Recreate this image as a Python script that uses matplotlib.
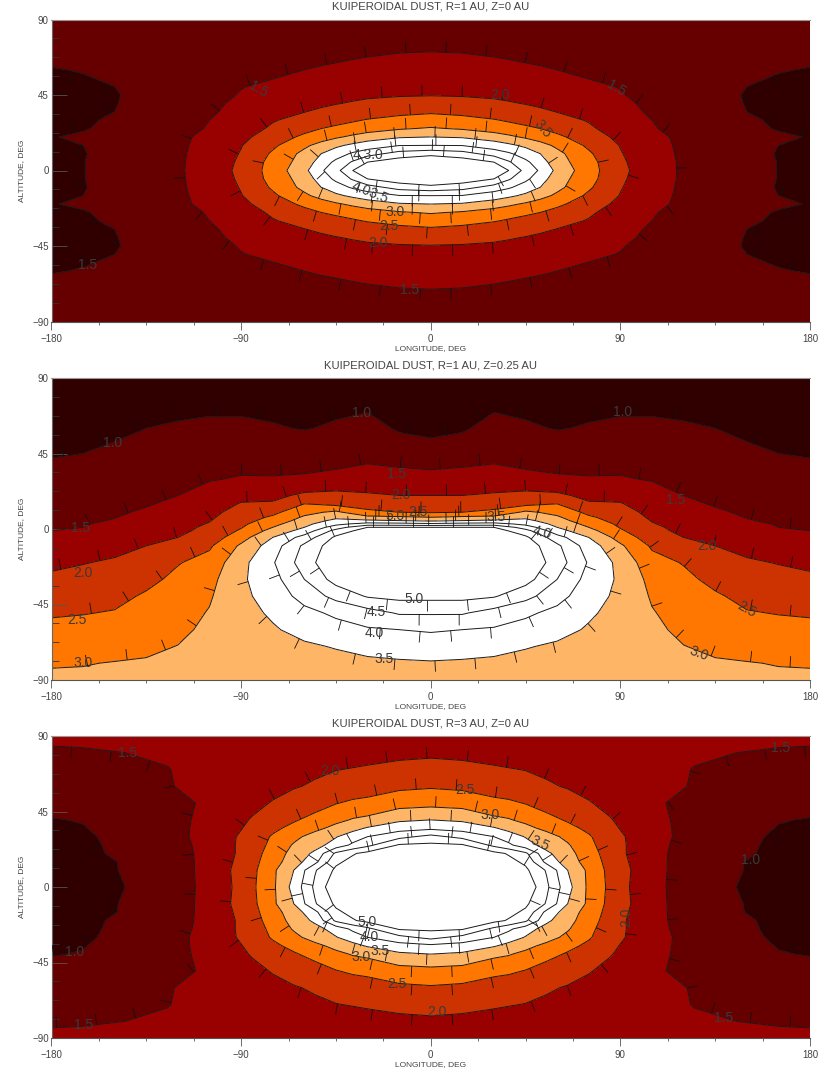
import numpy as np
import matplotlib
matplotlib.use("Agg")
import matplotlib.pyplot as plt

plt.rcParams['font.family'] = ['Liberation Sans', 'DejaVu Sans']

LEVELS = [1.0, 1.5, 2.0, 2.5, 3.0, 3.5, 4.0, 4.5, 5.0]
FILL_EDGES = [0.0, 1.0, 1.5, 2.0, 2.5, 3.0, 3.5, 20.0]
FILL_COLORS = ['#300000', '#660000', '#990000', '#cc3300', '#ff7700', '#ffb566', '#ffffff']

TITLES = ['KUIPEROIDAL DUST, R=1 AU, Z=0 AU',
          'KUIPEROIDAL DUST, R=1 AU, Z=0.25 AU',
          'KUIPEROIDAL DUST, R=3 AU, Z=0 AU']
X_TICKS = [-180, -90, 0, 90, 180]
Y_TICKS = [-90, -45, 0, 45, 90]

# Panel 1: quarter field, rows by |latitude|, columns by |longitude|
P1_LON = [0, 15, 30, 37, 45, 52, 60, 75, 90, 105, 120, 135, 150, 165, 180]
P1_LAT = [0, 5, 10, 15, 20, 25, 30, 35, 40, 45, 50, 60, 70, 80, 90]
P1_VAL = [
    [6.0, 5.7, 5.2, 5.0, 4.33, 3.93, 3.37, 2.7, 2.12, 1.71, 1.44, 1.29, 1.14, .99, .9],
    [5.5, 5.3, 5.0, 4.56, 4.11, 3.72, 3.22, 2.67, 2.08, 1.7, 1.44, 1.29, 1.14, .99, .9],
    [4.85, 4.7, 4.3, 4.07, 3.77, 3.5, 3.14, 2.57, 2.03, 1.68, 1.43, 1.28, 1.13, .98, .9],
    [4.0, 3.98, 3.72, 3.6, 3.4, 3.17, 2.9, 2.41, 1.98, 1.65, 1.42, 1.27, 1.13, 1.0, .9],
    [3.5, 3.45, 3.28, 3.1, 2.93, 2.77, 2.6, 2.24, 1.88, 1.6, 1.42, 1.27, 1.13, 1.06, .98],
    [3.05, 2.95, 2.75, 2.68, 2.58, 2.5, 2.35, 2.07, 1.79, 1.53, 1.38, 1.25, 1.1, .97, .88],
    [2.68, 2.62, 2.53, 2.45, 2.37, 2.27, 2.15, 1.97, 1.73, 1.5, 1.36, 1.22, 1.05, .95, .87],
    [2.45, 2.40, 2.28, 2.22, 2.16, 2.08, 1.99, 1.8, 1.6, 1.46, 1.33, 1.18, 1.0, .93, .86],
    [2.2, 2.18, 2.1, 2.04, 1.98, 1.92, 1.85, 1.71, 1.57, 1.43, 1.3, 1.15, .98, .92, .85],
    [1.98, 1.96, 1.92, 1.89, 1.85, 1.78, 1.72, 1.6, 1.52, 1.4, 1.28, 1.13, .97, .93, .88],
    [1.85, 1.84, 1.8, 1.77, 1.73, 1.69, 1.64, 1.55, 1.49, 1.38, 1.25, 1.1, 1.0, .93, .9],
    [1.65, 1.63, 1.6, 1.58, 1.55, 1.53, 1.5, 1.44, 1.38, 1.32, 1.25, 1.18, 1.11, 1.02, .98],
    [1.51, 1.5, 1.47, 1.45, 1.43, 1.41, 1.39, 1.35, 1.31, 1.28, 1.24, 1.2, 1.17, 1.14, 1.11],
    [1.38, 1.37, 1.36, 1.355, 1.35, 1.34, 1.33, 1.31, 1.29, 1.27, 1.25, 1.22, 1.2, 1.18, 1.16],
    [1.3, 1.3, 1.3, 1.3, 1.3, 1.3, 1.3, 1.3, 1.3, 1.3, 1.3, 1.3, 1.3, 1.3, 1.3],
]

# Panel 2: half field, one list per |longitude|, latitudes from north to south
P2_LON = [0, 15, 30, 45, 60, 75, 90, 105, 120, 135, 150, 165, 180]
P2_LAT = [90, 75, 60, 50, 40, 30, 20, 15, 10, 7, 5, 3, 1, -1, -5, -10, -20, -30, -40, -50, -60, -70, -80, -90]
P2_COLS = [
    [.75, .85, .93, 1.05, 1.35, 1.67, 2.0, 2.2, 2.45, 3.0, 3.4, 4.1, 5.0, 5.3, 5.6, 5.8, 6.0, 5.7, 5.15, 4.55, 4.05, 3.75, 3.46, 3.3],
    [.75, .87, .96, 1.12, 1.42, 1.67, 2.0, 2.2, 2.5, 3.08, 3.5, 4.17, 5.0, 5.3, 5.6, 5.8, 6.0, 5.7, 5.15, 4.55, 4.0, 3.7, 3.44, 3.3],
    [.8, .93, 1.12, 1.3, 1.47, 1.74, 2.05, 2.3, 2.6, 3.13, 3.58, 4.2, 5.0, 5.25, 5.5, 5.7, 5.8, 5.5, 5.05, 4.3, 3.95, 3.65, 3.4, 3.28],
    [.8, .9, 1.05, 1.22, 1.38, 1.65, 2.13, 2.35, 3.1, 3.4, 3.62, 3.87, 4.25, 4.67, 5.1, 5.3, 5.45, 5.2, 4.65, 4.1, 3.8, 3.53, 3.35, 3.25],
    [.8, .9, .98, 1.17, 1.38, 1.55, 2.1, 2.5, 2.85, 3.07, 3.22, 3.36, 3.5, 3.68, 4.2, 4.6, 4.75, 4.5, 4.2, 3.85, 3.65, 3.43, 3.32, 3.27],
    [.8, .9, 1.03, 1.2, 1.35, 1.53, 1.87, 2.06, 2.38, 2.57, 2.67, 2.85, 3.0, 3.17, 3.5, 3.75, 3.95, 3.82, 3.68, 3.57, 3.45, 3.35, 3.3, 3.25],
    [.8, .9, 1.09, 1.23, 1.38, 1.53, 1.87, 2.03, 2.19, 2.28, 2.34, 2.4, 2.47, 2.56, 2.8, 3.08, 3.35, 3.42, 3.4, 3.33, 3.28, 3.23, 3.2, 3.18],
    [.8, .9, 1.09, 1.21, 1.34, 1.47, 1.66, 1.77, 1.87, 1.93, 1.98, 2.03, 2.08, 2.13, 2.23, 2.43, 2.68, 2.85, 2.95, 3.03, 3.1, 3.13, 3.15, 3.15],
    [.78, .88, 1.05, 1.16, 1.27, 1.38, 1.5, 1.58, 1.67, 1.73, 1.78, 1.83, 1.88, 1.9, 2.0, 2.16, 2.47, 2.62, 2.73, 2.82, 2.9, 3.01, 3.08, 3.1],
    [.75, .85, 1.0, 1.1, 1.21, 1.32, 1.42, 1.47, 1.55, 1.6, 1.65, 1.7, 1.74, 1.78, 1.87, 2.0, 2.19, 2.37, 2.56, 2.72, 2.8, 2.92, 3.04, 3.1],
    [.72, .82, .92, 1.02, 1.13, 1.24, 1.34, 1.39, 1.45, 1.49, 1.52, 1.57, 1.61, 1.66, 1.75, 1.86, 2.06, 2.22, 2.37, 2.53, 2.68, 2.83, 3.02, 3.08],
    [.7, .8, .87, .95, 1.05, 1.17, 1.28, 1.33, 1.39, 1.43, 1.45, 1.48, 1.5, 1.55, 1.64, 1.75, 1.98, 2.15, 2.32, 2.48, 2.65, 2.82, 2.98, 3.08],
    [.7, .8, .85, .93, 1.02, 1.15, 1.26, 1.31, 1.37, 1.4, 1.43, 1.45, 1.47, 1.5, 1.58, 1.69, 1.9, 2.09, 2.27, 2.45, 2.62, 2.8, 2.97, 3.07],
]

# Panel 3: quarter field, rows by |latitude|, columns by |longitude|
P3_LON = [0, 15, 30, 37, 45, 55, 65, 75, 85, 95, 110, 125, 145, 165, 180]
P3_LAT = [0, 10, 15, 20, 25, 30, 35, 40, 50, 60, 70, 80, 90]
P3_VAL = [
    [7.0, 6.7, 6.0, 5.7, 5.4, 4.6, 3.67, 2.9, 2.4, 1.97, 1.53, 1.27, 1.0, .8, .7],
    [6.0, 5.8, 5.45, 5.3, 5.1, 4.45, 3.5, 2.9, 2.36, 2.0, 1.53, 1.32, 1.03, .85, .75],
    [5.8, 5.6, 5.3, 5.15, 4.9, 3.85, 3.25, 2.8, 2.32, 1.96, 1.53, 1.33, 1.03, .87, .78],
    [5.6, 5.4, 5.15, 4.95, 4.6, 3.6, 3.17, 2.72, 2.28, 1.92, 1.53, 1.35, 1.09, .9, .82],
    [5.1, 5.05, 4.37, 4.1, 3.7, 3.32, 3.05, 2.62, 2.25, 1.93, 1.54, 1.36, 1.1, .92, .84],
    [4.65, 4.35, 4.0, 3.75, 3.47, 3.2, 2.87, 2.55, 2.22, 1.92, 1.56, 1.37, 1.12, .94, .86],
    [3.9, 3.8, 3.55, 3.35, 3.15, 2.87, 2.63, 2.4, 2.1, 1.87, 1.55, 1.38, 1.17, .98, .92],
    [3.5, 3.42, 3.12, 3.04, 2.87, 2.65, 2.45, 2.26, 2.03, 1.83, 1.54, 1.38, 1.2, 1.02, .98],
    [2.85, 2.8, 2.62, 2.58, 2.48, 2.3, 2.17, 2.03, 1.88, 1.76, 1.51, 1.42, 1.3, 1.18, 1.13],
    [2.45, 2.4, 2.28, 2.22, 2.15, 2.05, 1.97, 1.87, 1.77, 1.69, 1.57, 1.48, 1.38, 1.3, 1.27],
    [2.15, 2.12, 2.05, 2.02, 1.99, 1.93, 1.85, 1.79, 1.73, 1.67, 1.58, 1.49, 1.42, 1.38, 1.37],
    [1.93, 1.9, 1.86, 1.84, 1.82, 1.78, 1.74, 1.7, 1.66, 1.63, 1.58, 1.54, 1.5, 1.47, 1.46],
    [1.8, 1.78, 1.76, 1.75, 1.74, 1.72, 1.7, 1.68, 1.66, 1.65, 1.63, 1.6, 1.58, 1.57, 1.56],
]

# Contour labels as printed on the chart: text, longitude, latitude, rotation
P1_LABELS = [('1.5', -82, 48.6, -30), ('2.0', 33, 45, 0), ('3.5', 53, 25, -50), ('4.3.0', -30, 9, 0),
             ('4.03.5', -29, -13, -22), ('3.0', -17, -25, 0), ('2.5', -20, -33, 0), ('2.0', -25, -43, 0),
             ('1.5', -10, -71, 0), ('1.5', -163, -56.6, 0), ('1.5', 88, 49, -30)]
P2_LABELS = [('1.0', -33, 69, 0), ('1.0', -151, 51, 0), ('1.5', -166, 0.6, 0), ('1.5', -16, 33, 0),
             ('2.0', -14, 20, 0), ('5.0', -17, 8, 0), ('2.5', -6, 10, 0), ('1.0', 91, 70, 0),
             ('1.5', 116, 17, 0), ('2.0', 131, -10, 0), ('2.5', 150, -48, -30), ('3.0', 127, -74, -20),
             ('2.0', -165, -26, 0), ('2.5', -168, -54, 0), ('3.0', -165, -80, 0), ('3.5', -22, -77.5, 0),
             ('4.0', -27, -62, 0), ('4.5', -26, -49.5, 0), ('5.0', -8, -42, 0), ('4.0', 53, -2, -15),
             ('3.5', 31, 7, 0)]
P3_LABELS = [('1.5', -144, 80, 0), ('2.0', -48, 69, 0), ('1.5', 166, 83, 0), ('2.5', 16, 58, 0),
             ('3.0', 28, 43, 0), ('3.5', 52, 26, -25), ('1.0', -169, -39, 0), ('1.0', 152, 16, 0),
             ('2.0', 93, -18, 90), ('5.0', -30, -21, 0), ('4.0', -29, -30, 0), ('3.5', -24, -38, 0),
             ('3.0', -33, -42, 0), ('2.5', -16, -58, 0), ('2.0', 3, -74.5, 0), ('1.5', -165, -82, 0),
             ('1.5', 139, -78, 0)]

# Axes frames in figure pixels: left, top, right, bottom
W, H = 830, 1073
FRAMES = [(51.5, 19.5, 810, 321.5), (51.5, 378, 810, 680), (51.5, 736, 810, 1038)]
LABEL_COLOR = '#444444'
HACHURE_SPACING = 40.0
HACHURE_LENGTH = 11.0


def quarter_to_full(lon, lat, val):
    lon = np.array(lon, float)
    lat = np.array(lat, float)
    val = np.array(val, float)
    full_lon = np.concatenate([-lon[:0:-1], lon])
    full_lat = np.concatenate([-lat[:0:-1], lat])
    v = np.concatenate([val[:, :0:-1], val], axis=1)
    v = np.concatenate([v[:0:-1], v], axis=0)
    return full_lon, full_lat, v


def half_to_full(lon, lat, cols):
    lon = np.array(lon, float)
    lat = np.array(lat, float)[::-1]
    val = np.array(cols, float).T[::-1]
    full_lon = np.concatenate([-lon[:0:-1], lon])
    v = np.concatenate([val[:, :0:-1], val], axis=1)
    return full_lon, lat, v


def sample(xs, ys, zs, x, y):
    i = np.clip(np.searchsorted(xs, x) - 1, 0, len(xs) - 2)
    j = np.clip(np.searchsorted(ys, y) - 1, 0, len(ys) - 2)
    tx = (x - xs[i]) / (xs[i + 1] - xs[i])
    ty = (y - ys[j]) / (ys[j + 1] - ys[j])
    return (zs[j, i] * (1 - tx) * (1 - ty) + zs[j, i + 1] * tx * (1 - ty)
            + zs[j + 1, i] * (1 - tx) * ty + zs[j + 1, i + 1] * tx * ty)


def hachures(ax, cs, xs, ys, zs, sx, sy):
    for segs in cs.allsegs:
        for seg in segs:
            if len(seg) < 2:
                continue
            px = seg[:, 0] * sx
            py = seg[:, 1] * sy
            dist = np.r_[0, np.cumsum(np.hypot(np.diff(px), np.diff(py)))]
            if dist[-1] < 8:
                continue
            for d in np.arange(HACHURE_SPACING / 2, dist[-1], HACHURE_SPACING):
                k = min(np.searchsorted(dist, d), len(px) - 1)
                k = max(k, 1)
                dx, dy = px[k] - px[k - 1], py[k] - py[k - 1]
                n = np.hypot(dx, dy)
                if n == 0:
                    continue
                t = (d - dist[k - 1]) / n
                ox, oy = px[k - 1] + t * dx, py[k - 1] + t * dy
                nx, ny = -dy / n, dx / n
                a = sample(xs, ys, zs, np.clip((ox + 2 * nx) / sx, -180, 180), np.clip((oy + 2 * ny) / sy, -90, 90))
                b = sample(xs, ys, zs, np.clip((ox - 2 * nx) / sx, -180, 180), np.clip((oy - 2 * ny) / sy, -90, 90))
                sign = 1 if a < b else -1
                ax.plot([ox / sx, (ox + sign * nx * HACHURE_LENGTH) / sx],
                        [oy / sy, (oy + sign * ny * HACHURE_LENGTH) / sy],
                        color='#111111', lw=0.6, solid_capstyle='butt', zorder=3, clip_on=True)


fields = [quarter_to_full(P1_LON, P1_LAT, P1_VAL),
          half_to_full(P2_LON, P2_LAT, P2_COLS),
          quarter_to_full(P3_LON, P3_LAT, P3_VAL)]
labels = [P1_LABELS, P2_LABELS, P3_LABELS]

fig = plt.figure(figsize=(W / 100, H / 100), dpi=100)
for frame, (xs, ys, zs), title, labs in zip(FRAMES, fields, TITLES, labels):
    l, t, r, b = frame
    ax = fig.add_axes([l / W, 1 - b / H, (r - l) / W, (b - t) / H])
    ax.contourf(xs, ys, zs, levels=FILL_EDGES, colors=FILL_COLORS, zorder=1)
    cs = ax.contour(xs, ys, zs, levels=LEVELS, colors='#1a1a1a', linewidths=0.7, zorder=2)
    ax.set_xlim(-180, 180)
    ax.set_ylim(-90, 90)
    hachures(ax, cs, xs, ys, zs, (r - l) / 360.0, (b - t) / 180.0)
    for text, lon, lat, rot in labs:
        ax.text(lon, lat, text, fontsize=10, color='#3a3a3a', rotation=rot, ha='center', va='center',
                zorder=4, rotation_mode='anchor')

    ax.set_xticks(X_TICKS)
    ax.set_yticks(Y_TICKS)
    ax.set_xticks(np.arange(-180, 181, 22.5), minor=True)
    ax.set_yticks(np.arange(-90, 91, 11.25), minor=True)
    ax.tick_params(axis='x', which='major', direction='out', length=6, width=0.6, color='#555555',
                   labelsize=7, labelcolor=LABEL_COLOR, pad=3)
    ax.tick_params(axis='x', which='minor', direction='out', length=2.5, width=0.6, color='#555555')
    ax.tick_params(axis='y', which='major', direction='in', length=11, width=0.6, color='#555555',
                   labelsize=7, labelcolor=LABEL_COLOR, pad=2)
    ax.tick_params(axis='y', which='minor', direction='in', length=5, width=0.6, color='#333333')
    ax.set_xticklabels(['\u2212180', '\u221290', '0', '90', '180'])
    ax.set_yticklabels(['\u221290', '\u221245', '0', '45', '90'])
    ax.spines['right'].set_visible(False)
    ax.spines['top'].set_color('#999999')
    ax.spines['left'].set_color('#666666')
    ax.spines['bottom'].set_color('#555555')
    for s in ax.spines.values():
        s.set_linewidth(0.8)
    ax.set_xlabel('LONGITUDE, DEG', fontsize=6, color=LABEL_COLOR, labelpad=0.5)
    ax.set_ylabel('ALTITUDE, DEG', fontsize=6, color=LABEL_COLOR, labelpad=5)
    ax.set_title(title, fontsize=8.1, color=LABEL_COLOR, pad=7)

fig.savefig('out.png', dpi=100)
